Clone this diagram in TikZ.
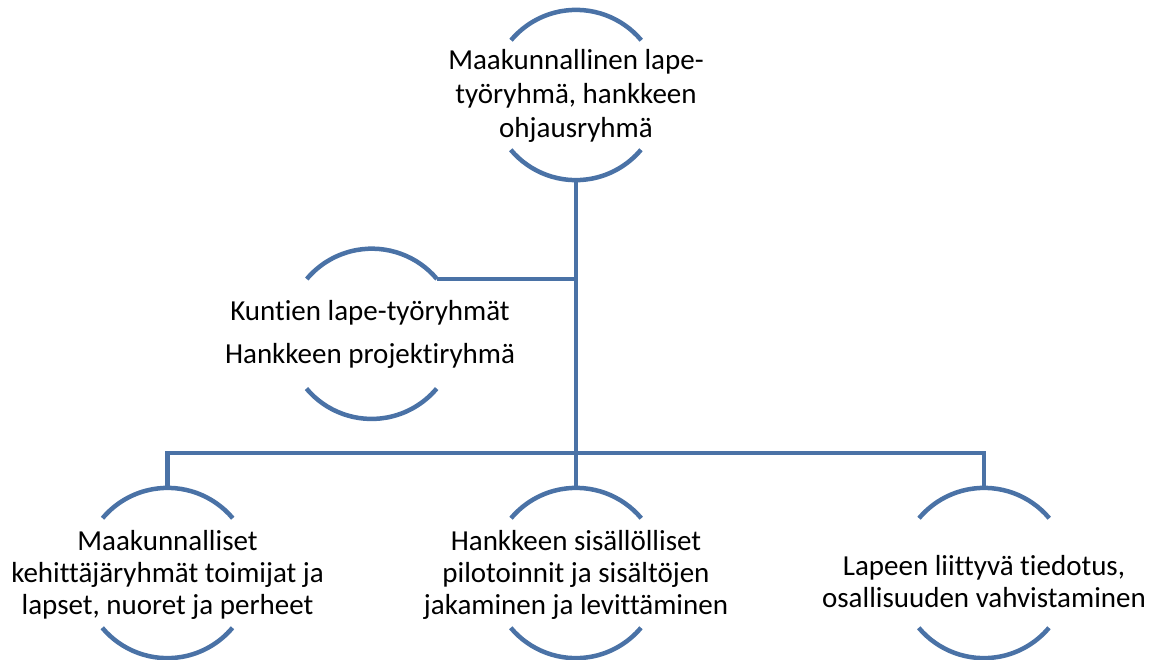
\documentclass[tikz,border=0pt]{standalone}
\usepackage{fontspec}
\setmainfont[Ligatures=NoCommon]{Carlito}
\definecolor{linec}{RGB}{74,114,166}
\begin{document}
\begin{tikzpicture}[x=1pt,y=-1pt,
  ring/.style={circle,minimum size=170pt,inner sep=0pt,draw=none},
  arcline/.style={draw=linec,line width=4.5pt},
  conn/.style={draw=linec,line width=4.5pt,line join=miter},
  txt/.style={align=center,font=\fontsize{29}{34}\selectfont,inner sep=0pt}]
\useasboundingbox (0,0) rectangle (1151,659);
% circles
\node[ring] (top) at (576,95) {};
\node[ring] (lft) at (371.7,333.8) {};
\node[ring] (bl) at (167.5,573) {};
\node[ring] (bm) at (576,573) {};
\node[ring] (br) at (984,573) {};
% arcs
\foreach \n in {top,lft,bl,bm,br}{
  \draw[arcline] (\n.40) arc[start angle=40,end angle=140,radius=85pt];
  \draw[arcline] (\n.220) arc[start angle=220,end angle=320,radius=85pt];
}
% texts
\node[txt] (ttop) at (576,96) {Maakunnallinen lape-\\työryhmä, hankkeen\\ohjausryhmä};
\node[txt,font=\fontsize{29}{43}\selectfont] (tlft) at (370,334) {Kuntien lape-työryhmät\\Hankkeen projektiryhmä};
\node[txt,font=\fontsize{29}{32}\selectfont] (tbl) at (167.5,575) {Maakunnalliset\\kehittäjäryhmät toimijat ja\\lapset, nuoret ja perheet};
\node[txt,font=\fontsize{29}{32}\selectfont] (tbm) at (576,575) {Hankkeen sisällölliset\\pilotoinnit ja sisältöjen\\jakaminen ja levittäminen};
\node[txt,font=\fontsize{29}{32}\selectfont] (tbr) at (984,582) {Lapeen liittyvä tiedotus,\\osallisuuden vahvistaminen};
% connectors
\coordinate (bus) at (576,453);
\draw[conn] (top.south) -- (bm.north);
\draw[conn] (lft.40) -- (lft.40 -| top.south);
\draw[conn] (bl.north) -- (bl.north |- bus) -- (br.north |- bus) -- (br.north);
\end{tikzpicture}
\end{document}
